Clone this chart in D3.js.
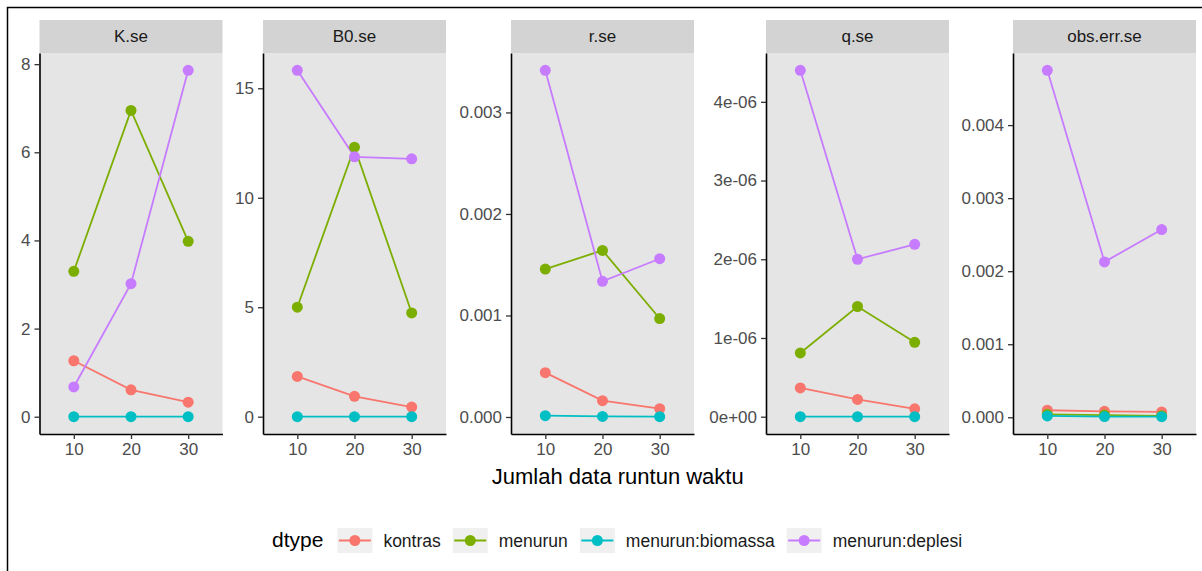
<!DOCTYPE html>
<html><head><meta charset="utf-8">
<script src="https://cdn.jsdelivr.net/npm/d3@7"></script>
<style>
body{margin:0;background:#fff}
svg{display:block}
text{font-family:"Liberation Sans", Arial, Helvetica, sans-serif}
</style>
</head><body><svg id="c" width="1202" height="571"></svg>
<script>
// ---------------- data ----------------
const facets = ["K.se", "B0.se", "r.se", "q.se", "obs.err.se"];
const xLevels = ["10", "20", "30"];
const seriesNames = ["kontras", "menurun", "menurun:biomassa", "menurun:deplesi"];
const seriesColors = ["#F8766D", "#7CAE00", "#00BFC4", "#C77CFF"];
// each row = one facet, values at x = 10, 20, 30
const kontras  = [[1.27, 0.61, 0.33], [1.84, 0.93, 0.44], [0.000437, 0.000161, 0.000082], [3.65e-7, 2.2e-7, 1.0e-7], [0.000096, 0.000082, 0.000073]];
const menurun  = [[3.30, 6.95, 3.98], [5.00, 12.31, 4.74], [0.001457, 0.001641, 0.00097], [8.1e-7, 1.40e-6, 9.45e-7], [0.00004, 0.00003, 0.00002]];
const biomassa = [[0.002, 0.001, 0.001], [0.002, 0.001, 0.001], [0.000013, 0.000006, 0.000003], [1e-9, 5e-10, 3e-10], [0.000018, 0.00001, 0.000008]];
const deplesi  = [[0.675, 3.02, 7.86], [15.82, 11.87, 11.78], [0.003415, 0.001336, 0.001559], [4.40e-6, 2.0e-6, 2.19e-6], [0.00475, 0.002127, 0.00257]];
const yTicks = [[0, 2, 4, 6, 8], [0, 5, 10, 15], [0, 0.001, 0.002, 0.003], [0, 1e-6, 2e-6, 3e-6, 4e-6], [0, 0.001, 0.002, 0.003, 0.004]];
const yTickLabels = [["0", "2", "4", "6", "8"], ["0", "5", "10", "15"], ["0.000", "0.001", "0.002", "0.003"],
  ["0e+00", "1e-06", "2e-06", "3e-06", "4e-06"], ["0.000", "0.001", "0.002", "0.003", "0.004"]];
const xTitle = "Jumlah data runtun waktu";
const legendTitle = "dtype";

// ---------------- layout ----------------
const seriesValues = [kontras, menurun, biomassa, deplesi];
const panelX = [39.5, 263, 511, 766, 1013];
const panelW = 183;
const stripTop = 20, stripH = 33, plotTop = 53, plotBottom = 434;
const tickFont = 17, legendFont = 17.5, titleFont = 22, legendTitleFont = 21;
const svg = d3.select("#c");

// outer border
svg.append("rect").attr("x", 7.5).attr("y", 7.5).attr("width", 1300).attr("height", 700)
  .attr("fill", "none").attr("stroke", "#000").attr("stroke-width", 1.5);

facets.forEach((f, fi) => {
  const px = panelX[fi];
  const g = svg.append("g");
  const all = seriesValues.flatMap(s => s[fi]);
  const lo = d3.min(all), hi = d3.max(all), r = hi - lo;
  const y = d3.scaleLinear().domain([lo - 0.05 * r, hi + 0.05 * r]).range([plotBottom, plotTop]);
  const x = d3.scalePoint().domain(xLevels).range([px, px + panelW]).padding(0.6);

  g.append("rect").attr("x", px).attr("y", plotTop).attr("width", panelW).attr("height", plotBottom - plotTop).attr("fill", "#E5E5E5");
  g.append("rect").attr("x", px).attr("y", stripTop).attr("width", panelW).attr("height", stripH).attr("fill", "#D3D3D3");
  g.append("text").attr("x", px + panelW / 2).attr("y", stripTop + stripH / 2).attr("dy", "0.35em")
    .attr("text-anchor", "middle").attr("font-size", tickFont).attr("fill", "#1A1A1A").text(f);

  const line = d3.line().x((d, i) => x(xLevels[i])).y(d => y(d));
  seriesValues.forEach((s, si) => {
    g.append("path").attr("d", line(s[fi])).attr("fill", "none").attr("stroke", seriesColors[si]).attr("stroke-width", 1.8);
  });
  seriesValues.forEach((s, si) => {
    g.selectAll(null).data(s[fi]).enter().append("circle")
      .attr("cx", (d, i) => x(xLevels[i])).attr("cy", d => y(d)).attr("r", 5.5).attr("fill", seriesColors[si]);
  });

  const ya = g.append("g").attr("transform", `translate(${px},0)`)
    .call(d3.axisLeft(y).tickValues(yTicks[fi]).tickFormat((d, i) => yTickLabels[fi][i]).tickSize(5).tickSizeOuter(0).tickPadding(4));
  const xa = g.append("g").attr("transform", `translate(0,${plotBottom})`)
    .call(d3.axisBottom(x).tickSize(5).tickSizeOuter(0).tickPadding(4));
  [ya, xa].forEach(a => {
    a.select(".domain").attr("stroke", "#000").attr("stroke-width", 1.6);
    a.selectAll(".tick line").attr("stroke", "#333").attr("stroke-width", 1.3);
    a.selectAll(".tick text").attr("font-size", tickFont).attr("fill", "#4D4D4D").attr("font-family", "Liberation Sans, Arial, sans-serif");
  });
});

// x axis title
svg.append("text").attr("x", (panelX[0] + panelX[4] + panelW) / 2).attr("y", 484)
  .attr("text-anchor", "middle").attr("font-size", titleFont).attr("fill", "#000").text(xTitle);

// legend
const lg = svg.append("g");
const ly = 540.5, keyW = 35, keyH = 25;
const lt = lg.append("text").attr("x", 272).attr("y", 547).attr("font-size", legendTitleFont).attr("fill", "#000").text(legendTitle);
let cx = 272 + lt.node().getComputedTextLength() + 14;
seriesNames.forEach((n, i) => {
  lg.append("rect").attr("x", cx).attr("y", ly - keyH / 2).attr("width", keyW).attr("height", keyH).attr("fill", "#F0F0F0");
  lg.append("line").attr("x1", cx + 1.5).attr("x2", cx + keyW - 1.5).attr("y1", ly).attr("y2", ly)
    .attr("stroke", seriesColors[i]).attr("stroke-width", 1.8);
  lg.append("circle").attr("cx", cx + keyW / 2).attr("cy", ly).attr("r", 5.5).attr("fill", seriesColors[i]);
  const t = lg.append("text").attr("x", cx + keyW + 11).attr("y", 546.5).attr("font-size", legendFont).attr("fill", "#1A1A1A").text(n);
  cx = cx + keyW + 11 + t.node().getComputedTextLength() + 12;
});
</script>
</body></html>
